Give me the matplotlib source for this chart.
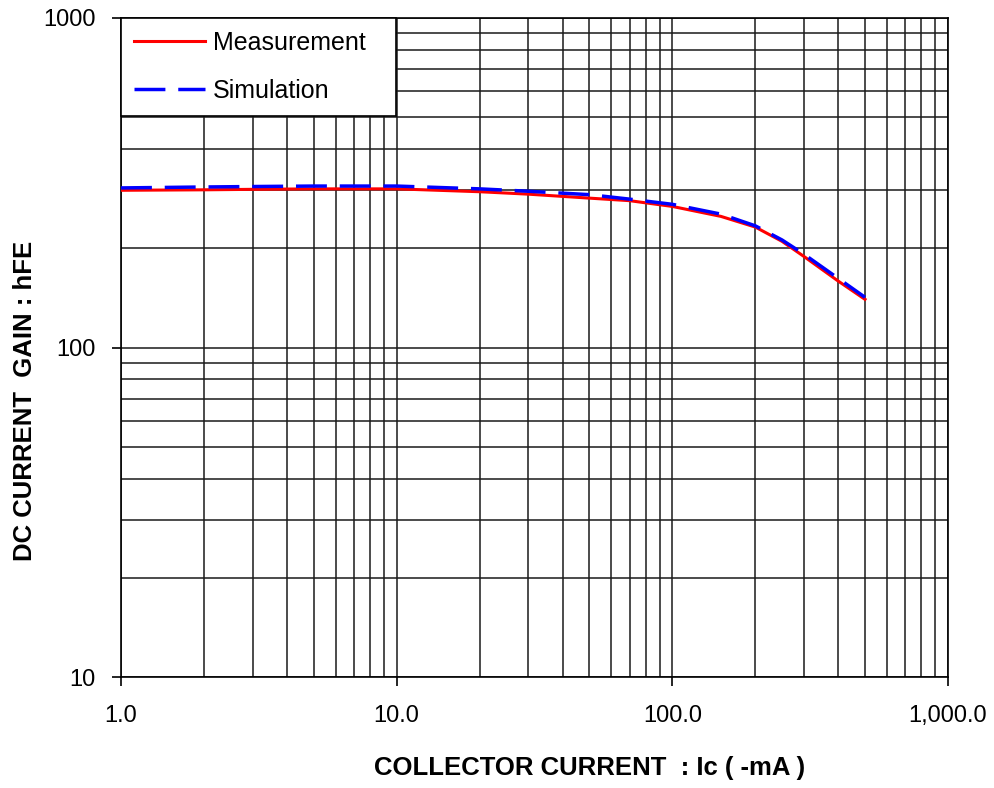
import matplotlib
matplotlib.use("Agg")
import matplotlib.pyplot as plt
from matplotlib.ticker import FixedLocator, NullFormatter

plt.rcParams["font.family"] = ["Liberation Sans", "DejaVu Sans"]

# data
ic_meas = [1, 2, 3, 5, 10, 20, 30, 50, 70, 100, 150, 200, 250, 300, 400, 500]
hfe_meas = [300, 301, 302, 303, 303, 297, 292, 284, 279, 268, 250, 232, 210, 189, 159, 140]

ic_sim = [1, 2, 3, 5, 10, 20, 30, 50, 70, 100, 150, 200, 250, 300, 400, 500]
hfe_sim = [305, 307, 308, 309, 309, 303, 298, 291, 282, 272, 254, 234, 212, 192, 162, 142]

x_ticks = [1, 10, 100, 1000]
x_tick_labels = ["1.0", "10.0", "100.0", "1,000.0"]
y_ticks = [10, 100, 1000]
y_tick_labels = ["10", "100", "1000"]

fig = plt.figure(figsize=(9.95, 7.88), dpi=100)
ax = fig.add_axes([121 / 995, 1 - 677 / 788, 827 / 995, 659 / 788])

ax.plot(ic_meas, hfe_meas, color="red", lw=2.2, label="Measurement", zorder=3)
ax.plot(ic_sim, hfe_sim, color="blue", lw=2.5, dashes=(8.9, 3.7),
        label="Simulation", zorder=4)

ax.set_xscale("log")
ax.set_yscale("log")
ax.set_xlim(1, 1000)
ax.set_ylim(10, 1000)

ax.set_xticks(x_ticks, x_tick_labels)
ax.set_yticks(y_ticks, y_tick_labels)
minor_x = [m * d for d in (1, 10, 100) for m in range(2, 10)]
minor_y = [m * d for d in (10, 100) for m in range(2, 10)]
ax.xaxis.set_minor_locator(FixedLocator(minor_x))
ax.yaxis.set_minor_locator(FixedLocator(minor_y))
ax.xaxis.set_minor_formatter(NullFormatter())
ax.yaxis.set_minor_formatter(NullFormatter())

ax.tick_params(which="major", direction="out", length=6.5, width=1.2,
               labelsize=17, color="black")
ax.tick_params(axis="x", which="major", pad=14)
ax.tick_params(axis="y", which="major", pad=12)
ax.tick_params(which="minor", length=0)

ax.grid(True, which="both", color="#1a1a1a", lw=1.1)
ax.set_axisbelow(True)
for s in ax.spines.values():
    s.set_color("black")
    s.set_linewidth(1.2)

ax.set_xlabel("COLLECTOR CURRENT  : Ic ( -mA )", fontsize=18.5, fontweight="bold",
              va="center")
ax.xaxis.set_label_coords(0.567, -0.138)
ax.set_ylabel("DC CURRENT  GAIN : hFE", fontsize=18.5, fontweight="bold",
              va="center")
ax.yaxis.set_label_coords(-0.116, 0.419)

leg = ax.legend(loc="upper left", bbox_to_anchor=(0, 1, 275 / 827, 0),
                mode="expand", borderaxespad=0, fontsize=18, frameon=True,
                fancybox=False, edgecolor="black", framealpha=1,
                handlelength=2.85, handletextpad=0.3, labelspacing=0.95,
                borderpad=0.52)
leg.get_frame().set_linewidth(1.2)
leg.set_zorder(5)

fig.savefig("out.png", dpi=100)
